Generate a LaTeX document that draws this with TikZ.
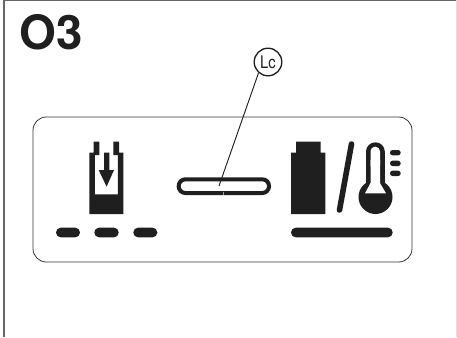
\documentclass[tikz,border=0pt]{standalone}
\usepackage{fontspec}
\setmainfont{TeX Gyre Heros}
\newfontfamily\lcfont[FakeStretch=0.85]{TeX Gyre Heros}
\tikzset{
  ink/.style={fill=black!88,draw=none},
  frameline/.style={draw=black!60,line width=1.1pt},
  dashbar/.style={ink,rounded corners=3.5},
  tickbar/.style={ink,rounded corners=1.9},
  title/.style={inner sep=0pt,anchor=base west,text=black!88,font=\bfseries\fontsize{35.5pt}{35.5pt}\selectfont},
  callout/.style={circle,draw=black!88,line width=1pt,minimum size=20.7pt,inner sep=0pt,text=black!88,font=\lcfont\fontsize{13pt}{13pt}\selectfont},
}
\begin{document}
\begin{tikzpicture}[x=.75pt,y=-.75pt]
\useasboundingbox (0,0) rectangle (457,337);
\fill[white] (0,0) rectangle (457,337);
% page frame
\draw[frameline] (4,337) -- (4,.5) -- (456,.5);
\fill[black!12] (456,0) rectangle (457,337);
\node[title] (ttl) at (19.5,49) {O3};
% panel
\draw[draw=black!80,line width=.6pt,rounded corners=10pt] (33,117) rectangle (412,262);
% left icon
\fill[ink] (93.5,141.7) -- (99.3,141.7) -- (99.3,155) -- (94.8,155) -- (94.8,194.3) -- (117.8,194.3) -- (117.8,155) -- (113.3,155) -- (113.3,141.7) -- (119,141.7) -- (119,152.7) -- (123.3,152.7) -- (123.3,214) -- (89.3,214) -- (89.3,152.7) -- (93.5,152.7) -- cycle;
\fill[ink] (104,152.7) -- (109.3,152.7) -- (109.3,170) -- (114,170) -- (106.6,186.7) -- (98.7,170) -- (104,170) -- cycle;
\fill[dashbar] (56,227.7) rectangle (80,237.3);
\fill[dashbar] (94.3,227.7) rectangle (118.7,237.3);
\fill[dashbar] (133.3,227.7) rectangle (157.3,237.3);
% pill
\draw[draw=black!88,line width=3pt,rounded corners=5pt] (178.7,179.3) rectangle (269,193);
\draw[black!40,line width=.4pt] (223,191.5) -- (223,195);
% callout
\node[callout] (lc) at (268,62) {Lc};
\coordinate (lcend) at (219,186);
\draw[black!88,line width=.7pt] (lc.229) -- (lcend);
% right icon
\fill[ink] (296,141.7) -- (320.7,141.7) -- (320.7,152.7) -- (325.3,152.7) -- (325.3,214) -- (291,214) -- (291,152.7) -- (296,152.7) -- cycle;
\draw[black!88,line width=4.2pt,line cap=round] (351.5,144) -- (339.5,210);
\fill[dashbar] (291,227.7) rectangle (392.7,237.3);
% thermometer
\fill[ink] (375.5,197) circle (17);
\fill[ink,rounded corners=7] (366,142.3) rectangle (384.8,195);
\fill[white,rounded corners=3.4] (370.5,146.7) rectangle (380,170);
\fill[white] (370.5,160) -- (380,160) -- (380,183) -- (386,193.3) -- (365,193.3) -- (370.5,183) -- cycle;
\fill[tickbar] (390,150) rectangle (400.7,155.3);
\fill[tickbar] (390,160.7) rectangle (400.7,166);
\fill[tickbar] (390,170.7) rectangle (400.7,176);
\end{tikzpicture}
\end{document}
